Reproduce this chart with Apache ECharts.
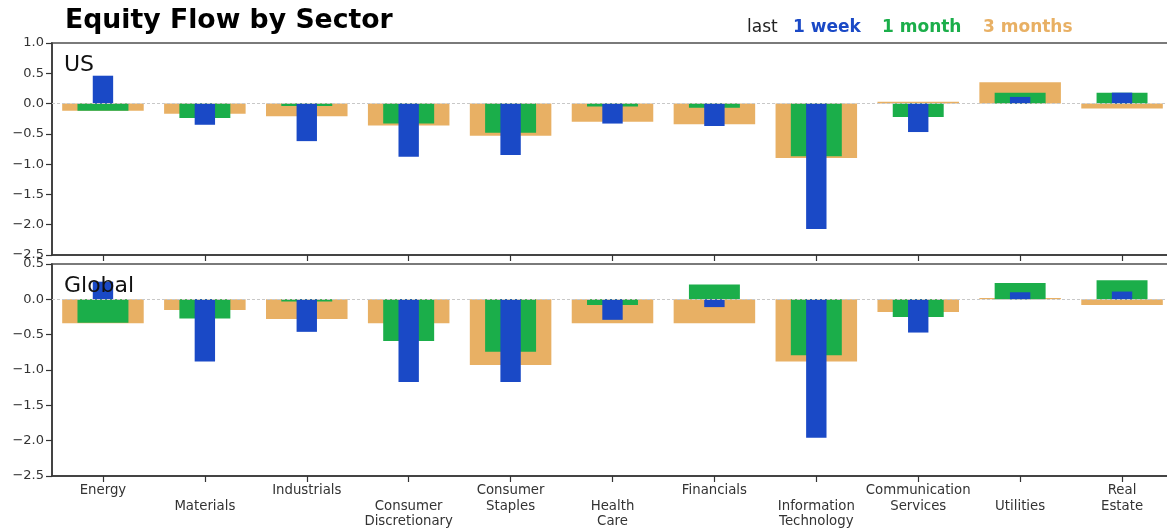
<!DOCTYPE html>
<html>
<head>
<meta charset="utf-8">
<script src="https://cdn.jsdelivr.net/npm/echarts@6/dist/echarts.min.js"></script>
<style>
  html, body { margin: 0; padding: 0; background: #fff; }
  #chart { width: 1167px; height: 529px; }
</style>
</head>
<body>
<div id="chart"></div>
<script>
var sectors = ['Energy', 'Materials', 'Industrials', 'Consumer\nDiscretionary', 'Consumer\nStaples',
    'Health\nCare', 'Financials', 'Information\nTechnology', 'Communication\nServices', 'Utilities', 'Real\nEstate'];

// US panel
var usWeek  = [0.46, -0.35, -0.62, -0.88, -0.85, -0.33, -0.37, -2.07, -0.47, 0.11, 0.18];
var usMonth = [-0.12, -0.24, -0.04, -0.33, -0.48, -0.05, -0.07, -0.87, -0.22, 0.18, 0.18];
var us3m    = [-0.12, -0.17, -0.21, -0.36, -0.53, -0.30, -0.34, -0.90, 0.03, 0.35, -0.08];

// Global panel
var globalWeek  = [0.25, -0.88, -0.46, -1.17, -1.17, -0.29, -0.11, -1.96, -0.47, 0.10, 0.11];
var globalMonth = [-0.33, -0.27, -0.03, -0.59, -0.74, -0.08, 0.21, -0.79, -0.25, 0.23, 0.27];
var global3m    = [-0.34, -0.15, -0.28, -0.34, -0.93, -0.34, -0.34, -0.88, -0.18, 0.02, -0.08];

var panelNames = ['US', 'Global'];
var legendWords = ['last', '1 week', '1 month', '3 months'];
var yMax = [1.0, 0.5];
var yMin = -2.5;

var BLUE = '#1a49c6', GREEN = '#1bae4a', ORANGE = '#e8b064';
var FONT = 'DejaVu Sans';

var myChart = echarts.init(document.getElementById('chart'));

function fmt(v) {
    return (v < 0 ? '\u2212' : '') + Math.abs(v).toFixed(1);
}

var grids = [
    { left: 52, right: -6, top: 43, height: 212, outerBoundsMode: 'none', show: true, borderColor: '#7a7a7a', borderWidth: 2 },
    { left: 52, right: -6, top: 264, height: 212, outerBoundsMode: 'none', show: true, borderColor: '#7a7a7a', borderWidth: 2 }
];

var xAxes = [];
var yAxes = [];
var series = [];
var panels = [[us3m, usMonth, usWeek], [global3m, globalMonth, globalWeek]];
var widths = ['80%', '50%', '20%'];
var colors = [ORANGE, GREEN, BLUE];

for (var g = 0; g < 2; g++) {
    for (var k = 0; k < 3; k++) {
        var main = k === 0;
        xAxes.push({
            type: 'category',
            gridIndex: g,
            data: sectors,
            show: main,
            axisLine: { onZero: false, lineStyle: { color: '#333', width: 1.5 } },
            axisTick: { show: true, alignWithLabel: true, length: 6, lineStyle: { color: '#333', width: 1.2 } },
            axisLabel: {
                show: g === 1,
                interval: 0,
                margin: 7,
                fontFamily: FONT,
                fontSize: 13.3,
                lineHeight: 15.5,
                color: '#333',
                formatter: function (v, i) { return i % 2 ? '\n' + v : v; }
            }
        });
    }
    yAxes.push({
        type: 'value',
        gridIndex: g,
        min: yMin,
        max: yMax[g],
        interval: 0.5,
        splitLine: { show: false },
        axisLine: { show: true, lineStyle: { color: '#333', width: 1.5 } },
        axisTick: { show: true, length: 6, lineStyle: { color: '#333', width: 1.2 } },
        axisLabel: { fontFamily: FONT, fontSize: 13, color: '#333', margin: 8, formatter: fmt }
    });
    for (var k = 0; k < 3; k++) {
        var s = {
            type: 'bar',
            xAxisIndex: g * 3 + k,
            yAxisIndex: g,
            data: panels[g][k],
            barWidth: widths[k],
            itemStyle: { color: colors[k] },
            silent: true,
            z: 2 + k
        };
        if (k === 2) {
            s.markLine = {
                silent: true,
                symbol: 'none',
                label: { show: false },
                lineStyle: { type: [3, 2], color: '#c8c8c8', width: 1 },
                data: [{ yAxis: 0 }]
            };
        }
        series.push(s);
    }
}

// legend drawn as coloured words: last / 1 week / 1 month / 3 months
var legendLeft = [742, 788, 877, 978];
var legendColors = ['#222', BLUE, GREEN, ORANGE];
var titles = [
    {
        text: 'Equity Flow by Sector',
        left: 60, top: 3,
        textStyle: { fontFamily: FONT, fontSize: 26.7, fontWeight: 'bold', color: '#000' }
    },
    {
        text: panelNames[0], left: 59, top: 49,
        textStyle: { fontFamily: FONT, fontSize: 22, fontWeight: 'normal', color: '#111' }
    },
    {
        text: panelNames[1], left: 59, top: 270,
        textStyle: { fontFamily: FONT, fontSize: 22, fontWeight: 'normal', color: '#111' }
    }
];
for (var i = 0; i < legendWords.length; i++) {
    titles.push({
        text: legendWords[i],
        left: legendLeft[i], top: 14,
        textStyle: {
            fontFamily: FONT, fontSize: 17,
            fontWeight: i === 0 ? 'normal' : 'bold',
            color: legendColors[i]
        }
    });
}

var option = {
    backgroundColor: '#fff',
    animation: false,
    title: titles,
    grid: grids,
    xAxis: xAxes,
    yAxis: yAxes,
    series: series
};
myChart.setOption(option);
</script>
</body>
</html>
